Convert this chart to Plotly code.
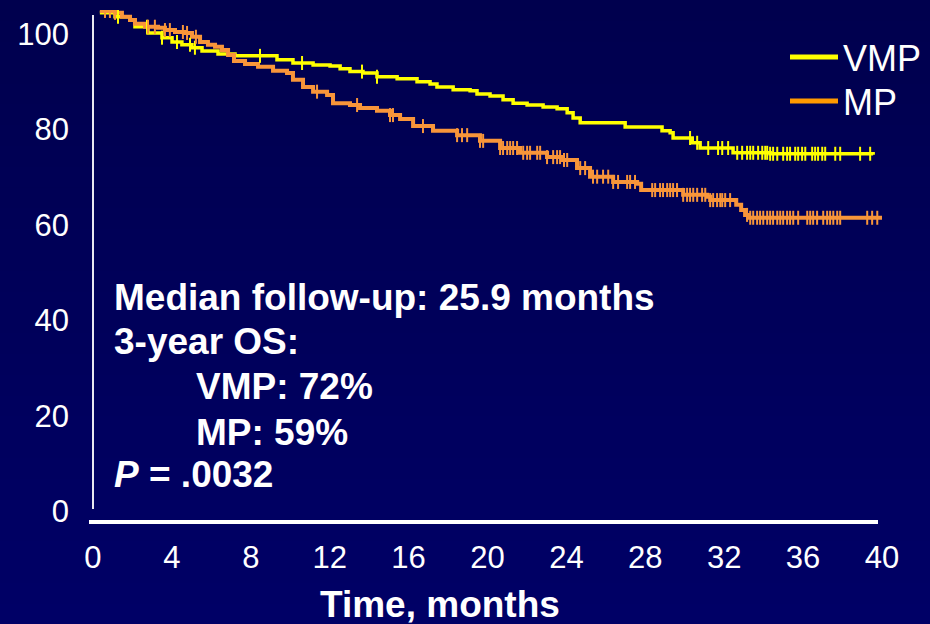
import numpy as np
import plotly.graph_objects as go

# ---------------- data ----------------
vmp_time = [0.35, 1.12, 1.88, 2.13, 2.79, 3.50, 4.01, 4.51, 5.02, 5.53, 6.34, 7.20,
            9.33, 10.14, 11.16, 12.02, 12.53, 13.03, 13.69, 14.40, 15.42, 16.43,
            17.09, 17.44, 18.26, 19.12, 19.47, 20.13, 20.79, 21.30, 22.01, 22.82,
            23.53, 24.04, 24.34, 24.70, 26.98, 28.85, 29.26, 29.41, 30.38, 30.78,
            32.45, 34.33, 39.55]
vmp_surv = [104.4, 103.6, 102.9, 101.5, 100.2, 99.2, 98.3, 97.7, 97.1, 96.4, 95.8, 95.4,
            94.6, 93.9, 93.5, 93.3, 92.7, 92.1, 91.8, 91.0, 90.6, 90.0,
            89.5, 88.9, 88.3, 88.1, 87.4, 87.0, 86.2, 85.5, 85.1, 84.7,
            84.3, 83.5, 82.4, 81.4, 80.5, 79.7, 79.3, 78.2, 77.2, 76.1,
            75.1, 74.9, 74.7]

mp_time = [0.35, 1.12, 1.47, 1.88, 2.13, 2.64, 3.30, 3.65, 4.16, 4.67, 5.02, 5.43,
           5.83, 6.19, 6.54, 6.85, 7.15, 7.71, 8.37, 9.13, 9.84, 10.14, 10.65,
           11.16, 11.87, 12.17, 13.03, 13.54, 14.40, 15.06, 15.57, 16.23, 17.24,
           18.46, 19.62, 20.64, 21.65, 23.02, 23.83, 24.54, 25.20, 26.37, 27.59,
           27.79, 29.92, 31.14, 31.29, 32.61, 32.86, 33.06, 33.22, 40.0]
mp_surv = [104.8, 104.4, 103.6, 102.9, 102.1, 101.5, 101.3, 100.8, 100.4, 100.2, 99.4, 98.3,
           97.7, 97.3, 96.6, 95.6, 94.3, 93.7, 93.1, 92.3, 91.8, 90.4, 88.9,
           87.9, 87.2, 85.5, 85.1, 84.5, 83.9, 83.0, 82.2, 80.7, 79.7,
           78.8, 77.6, 76.1, 75.1, 74.2, 73.6, 71.9, 70.1, 69.0, 68.6,
           67.3, 66.3, 65.9, 65.2, 64.2, 63.1, 62.1, 61.5, 61.5]

vmp_censored = [1.27, 2.74, 3.50, 4.26, 4.92, 5.17, 8.47, 10.60, 13.64, 14.40, 30.27,
                30.63, 31.19, 31.69, 31.90, 32.20, 32.66, 32.91, 33.16, 33.32, 33.47,
                33.72, 33.93, 34.08, 34.18, 34.33, 34.48, 34.69, 34.99, 35.19, 35.34,
                35.60, 35.75, 35.95, 36.11, 36.46, 36.61, 36.76, 36.97, 37.12, 37.63,
                37.88, 38.89, 39.40]

mp_censored = [0.61, 0.86, 1.12, 2.79, 3.14, 3.65, 3.90, 4.56, 4.77, 5.22, 11.36, 13.39,
               15.06, 15.21, 16.73, 18.46, 18.71, 18.97, 19.62, 19.78, 20.64, 20.79,
               21.00, 21.15, 21.30, 21.50, 21.81, 22.01, 22.16, 22.52, 22.67, 23.02,
               23.33, 23.53, 23.68, 23.88, 24.04, 24.70, 24.95, 25.35, 25.56, 25.86,
               26.12, 26.37, 26.62, 27.08, 27.23, 27.48, 28.35, 28.50, 28.75, 28.90,
               29.11, 29.26, 29.41, 29.61, 29.92, 30.12, 30.27, 30.43, 30.63, 30.88,
               31.04, 31.29, 31.44, 31.64, 31.80, 31.90, 32.05, 32.30, 33.16, 33.32,
               33.47, 33.67, 33.82, 33.98, 34.18, 34.33, 34.48, 34.69, 34.84, 34.99,
               35.19, 35.34, 35.50, 35.75, 36.21, 36.36, 36.51, 36.71, 37.02, 37.22,
               37.37, 37.53, 37.73, 37.88, 39.25, 39.50, 39.76]

x_ticks = [0, 4, 8, 12, 16, 20, 24, 28, 32, 36, 40]
y_ticks = [0, 20, 40, 60, 80, 100]

series_names = ["VMP", "MP"]
note_lines = ["<b>Median follow-up: 25.9 months</b>", "<b>3-year OS:</b>",
              "<b>VMP: 72%</b>", "<b>MP: 59%</b>", "<b><i>P</i> = .0032</b>"]
x_title = "<b>Time, months</b>"

# ---------------- styling ----------------
FONT = "Arial, Liberation Sans, sans-serif"
VMP_COLOR = "#FFFF00"
MP_COLOR = "#F8953A"
MP_LEGEND_COLOR = "#FF9900"
W, H = 930, 624
ML, MR, MT, MB = 89, 48, 10, 102
plot_w = W - ML - MR
plot_h = H - MT - MB


def surv_at(times, survs, t):
    times = np.asarray(times)
    survs = np.asarray(survs)
    idx = np.searchsorted(times, np.asarray(t), side="right") - 1
    idx = np.clip(idx, 0, len(survs) - 1)
    return survs[idx]


fig = go.Figure()

# background gradient bands (paper coordinates cover the whole page)
n_bands = 30
px0 = -ML / plot_w
px1 = (W - ML) / plot_w
pyb = -MB / plot_h
pyt = (H - MB) / plot_h
for i in range(n_bands):
    f = i / (n_bands - 1)
    b = int(round(102 - (102 - 78) * f))
    y0 = pyb + (pyt - pyb) * i / n_bands
    y1 = pyb + (pyt - pyb) * (i + 1) / n_bands + 0.002
    fig.add_shape(type="rect", xref="paper", yref="paper", x0=px0, x1=px1,
                  y0=y0, y1=y1, fillcolor=f"rgb(0,0,{b})", line_width=0, layer="below")

# curves
fig.add_trace(go.Scatter(x=vmp_time, y=vmp_surv, mode="lines", line_shape="hv",
                         line=dict(color=VMP_COLOR, width=3.5), showlegend=False,
                         hoverinfo="skip"))
fig.add_trace(go.Scatter(x=mp_time, y=mp_surv, mode="lines", line_shape="hv",
                         line=dict(color=MP_COLOR, width=4), showlegend=False,
                         hoverinfo="skip"))
# censor marks
fig.add_trace(go.Scatter(x=vmp_censored, y=surv_at(vmp_time, vmp_surv, vmp_censored),
                         mode="markers", marker=dict(symbol="line-ns", size=10,
                         line=dict(color=VMP_COLOR, width=2)), showlegend=False,
                         hoverinfo="skip"))
fig.add_trace(go.Scatter(x=mp_censored, y=surv_at(mp_time, mp_surv, mp_censored),
                         mode="markers", marker=dict(symbol="line-ns", size=10,
                         line=dict(color=MP_COLOR, width=2)), showlegend=False,
                         hoverinfo="skip"))
# legend entries (one legend each, so they can be spaced like the slide)
fig.add_trace(go.Scatter(x=[None], y=[None], mode="lines", name=series_names[0],
                         line=dict(color=VMP_COLOR, width=5), legend="legend"))
fig.add_trace(go.Scatter(x=[None], y=[None], mode="lines", name=series_names[1],
                         line=dict(color=MP_LEGEND_COLOR, width=5), legend="legend2"))

# axis lines as drawn in the slide
fig.add_shape(type="line", xref="paper", yref="paper",
              x0=4 / plot_w, x1=4 / plot_w, y0=13 / plot_h, y1=(plot_h - 5) / plot_h,
              line=dict(color="#E8E8F0", width=2))
fig.add_shape(type="line", xref="paper", yref="paper",
              x0=0, x1=(plot_w - 4) / plot_w, y0=0, y1=0,
              line=dict(color="white", width=4))

# annotation text block
note_x = [0.95, 0.95, 5.1, 5.1, 0.95]
note_y = [44.9, 35.5, 26.1, 16.6, 7.85]
for txt, nx, ny in zip(note_lines, note_x, note_y):
    fig.add_annotation(x=nx, y=ny, xref="x", yref="y", text=txt, showarrow=False,
                       xanchor="left", yanchor="middle",
                       font=dict(family=FONT, size=37, color="white"))

fig.add_annotation(x=17.6, y=-82 / plot_h, xref="x", yref="paper", text=x_title,
                   showarrow=False, xanchor="center", yanchor="middle",
                   font=dict(family=FONT, size=37, color="white"))

legend_common = dict(xanchor="left", yanchor="top", bgcolor="rgba(0,0,0,0)",
                     font=dict(family=FONT, size=36, color="white"), itemwidth=48)

fig.update_layout(
    width=W, height=H,
    margin=dict(l=ML, r=MR, t=MT, b=MB, autoexpand=False),
    paper_bgcolor="#00005A",
    plot_bgcolor="rgba(0,0,0,0)",
    font=dict(family=FONT, color="white"),
    showlegend=True,
    legend=dict(x=(785 - ML) / plot_w, y=(plot_h + MT - 27) / plot_h, **legend_common),
    legend2=dict(x=(785 - ML) / plot_w, y=(plot_h + MT - 71) / plot_h, **legend_common),
    xaxis=dict(range=[-0.2, 40.0], tickvals=x_ticks, ticktext=[str(v) for v in x_ticks],
               showgrid=False, zeroline=False, showline=False, ticks="",
               ticklabelstandoff=14,
               tickfont=dict(family=FONT, size=31, color="white")),
    yaxis=dict(range=[-2.2, 105.0], tickvals=y_ticks, ticktext=[str(v) for v in y_ticks],
               showgrid=False, zeroline=False, showline=False, ticks="",
               anchor="free", position=4 / plot_w, ticklabelstandoff=24,
               tickfont=dict(family=FONT, size=31, color="white")),
)

fig.write_html("out.html")
